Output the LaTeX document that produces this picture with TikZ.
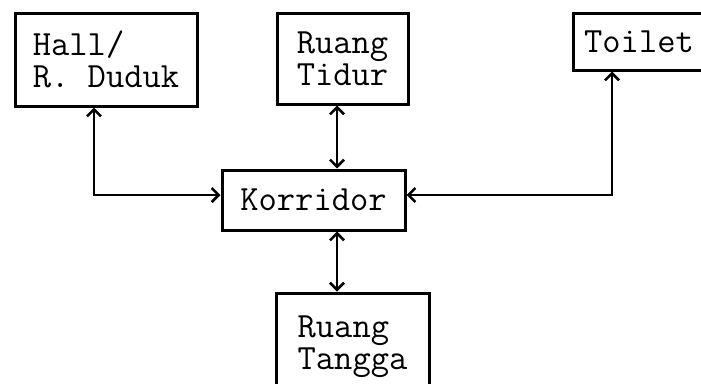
\documentclass[tikz,border=0pt]{standalone}
\usetikzlibrary{arrows.meta}
\begin{document}
\begin{tikzpicture}[x=1pt,y=-1pt,
  room/.style={draw,line width=3pt,align=left,inner sep=0pt,
    font=\ttfamily\fontsize{35.5}{32}\selectfont},
  link/.style={line width=2.5pt,{Straight Barb[length=7pt,width=14pt,line width=2.5pt]}-{Straight Barb[length=7pt,width=14pt,line width=2.5pt]}}]
\useasboundingbox (0,0) rectangle (701,383);
\node[room,minimum width=182pt,minimum height=93pt] (hall) at (106,59.5) {Hall/\\R. Duduk};
\node[room,minimum width=131pt,minimum height=91pt] (tidur) at (342.5,58.5) {Ruang\\Tidur};
\node[room,minimum width=132pt,minimum height=57pt] (toilet) at (639,41.5) {Toilet};
\node[room,minimum width=183pt,minimum height=60pt] (korr) at (313.5,200) {Korridor};
\node[room,minimum width=153pt,minimum height=107pt] (tangga) at (352.5,346.5) {Ruang\\Tangga};
\draw[link] ([xshift=-12pt]hall.south) |- ([yshift=5pt]korr.west);
\draw[link] ([xshift=-5.5pt]tidur.south) -- ([xshift=-5.5pt]tidur.south |- korr.north);
\draw[link] ([xshift=-27pt]toilet.south) |- ([yshift=5pt]korr.east);
\draw[link] ([xshift=-15.5pt]tangga.north |- korr.south) -- ([xshift=-15.5pt]tangga.north);
\end{tikzpicture}
\end{document}
